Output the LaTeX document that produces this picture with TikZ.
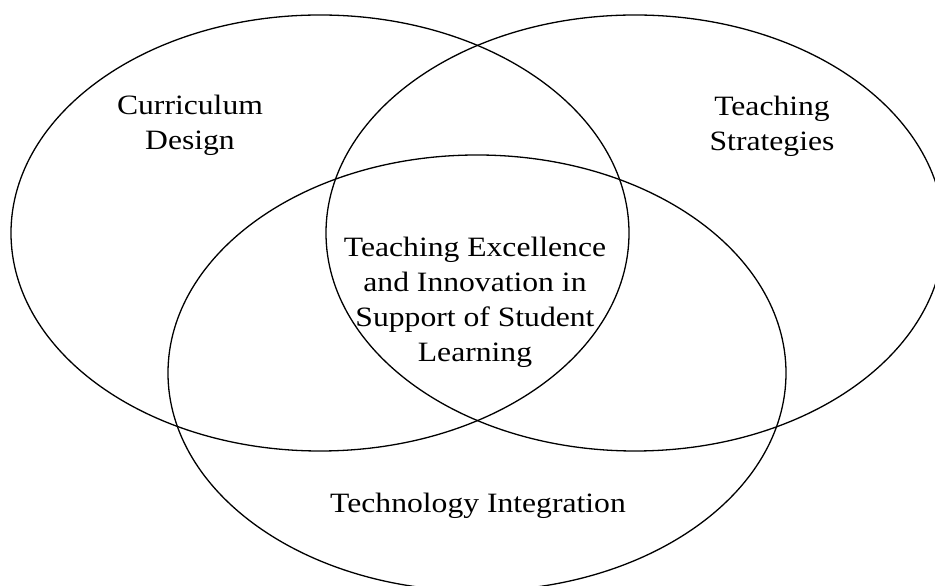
\documentclass[tikz,border=0pt]{standalone}
\usepackage{fontspec}
\setmainfont{Liberation Serif}[FakeStretch=1.13]
\begin{document}
\begin{tikzpicture}[x=1pt,y=1pt,
  venn/.style={draw=black,line width=1.3pt},
  lbl/.style={align=center,inner sep=0pt,anchor=base,font=\fontsize{28}{35}\selectfont}]
\useasboundingbox (0,0) rectangle (935,586);
\clip (0,0) rectangle (935,586);
\draw[venn] (320,353) ellipse [x radius=309, y radius=218];
\draw[venn] (635,353) ellipse [x radius=309, y radius=218];
\draw[venn] (477,213) ellipse [x radius=309, y radius=218];
\node[lbl] (cd) at (190,436) {Curriculum\\Design};
\node[lbl] (ts) at (772,435) {Teaching\\Strategies};
\node[lbl] (ce) at (475,224) {Teaching Excellence\\and Innovation in\\Support of Student\\Learning};
\node[lbl] (ti) at (478,73) {Technology Integration};
\end{tikzpicture}
\end{document}
